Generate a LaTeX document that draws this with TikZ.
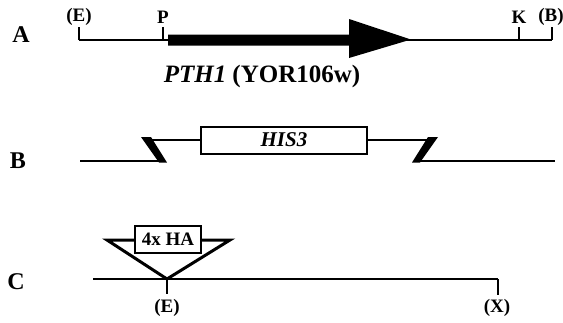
\documentclass[tikz,border=0pt]{standalone}
\usepackage{fontspec}
\setmainfont{Liberation Serif}
\begin{document}
\begin{tikzpicture}[x=1pt,y=-1pt,
  ln/.style={line width=2pt},
  tick/.style={line width=2pt},
  site/.style={font=\bfseries\fontsize{19}{19}\selectfont, inner sep=0pt},
  rowlbl/.style={font=\bfseries\fontsize{24}{24}\selectfont, inner sep=0pt, anchor=base},
  slash/.style={fill=black},
  box/.style={draw, line width=2pt, fill=white, inner sep=0pt}]
\useasboundingbox (0,0) rectangle (563,322);
% ---- Row A ----
\node[rowlbl] (lA) at (21,42) {A};
\coordinate (aE) at (79,40);
\coordinate (aP) at (163,40);
\coordinate (aK) at (519,40);
\coordinate (aB) at (552,40);
\draw[ln] (aE) -- (aB);
\draw[tick] (aE) -- ++(0,-13);
\draw[tick] (aP) -- ++(0,-13);
\draw[tick] (aK) -- ++(0,-13);
\draw[tick] (aB) -- ++(0,-13);
\node[site] (tE) at (79,17) {(E)};
\node[site] (tP) at (163,17) {P};
\node[site] (tK) at (519,17) {K};
\node[site] (tB) at (551,17) {(B)};
\fill (168,34.5) -- (349,34.5) -- (349,19) -- (411,39.5) -- (349,58) -- (349,45.5) -- (168,45.5) -- cycle;
\node[font=\bfseries\fontsize{25}{25}\selectfont, inner sep=0pt] (gene) at (262,76) {\textit{PTH1} (YOR106w)};
% ---- Row B ----
\node[rowlbl] (lB) at (18,168) {B};
\node[box, minimum width=166pt, minimum height=27pt, font=\bfseries\itshape\fontsize{21}{21}\selectfont] (his) at (284,140) {HIS3};
\coordinate (bl0) at (80,161);
\coordinate (bl1) at (164,161);
\coordinate (bl2) at (147,140);
\coordinate (br0) at (555,161);
\coordinate (br1) at (414,161);
\coordinate (br2) at (432,140);
\draw[ln] (bl0) -- (bl1);
\draw[ln] (bl2) -- (his.west);
\draw[ln] (his.east) -- (br2);
\draw[ln] (br1) -- (br0);
\fill[slash] (141,137) -- (151,137) -- (167,162.5) -- (159,162.5) -- cycle;
\fill[slash] (428,137) -- (438,137) -- (420,162.5) -- (412,162.5) -- cycle;
% ---- Row C ----
\node[rowlbl] (lC) at (16,289) {C};
\coordinate (cE) at (167,279);
\coordinate (cX) at (498,279);
\coordinate (cL) at (93,279);
\draw[ln] (cL) -- (cX);
\draw[tick] (cE) -- ++(0,15);
\draw[tick] (cX) -- ++(0,16);
\node[site] (bE) at (167,308) {(E)};
\node[site] (bX) at (497,308) {(X)};
\draw[line width=3pt, line join=miter] (107,240) -- (230,240) -- (cE) -- cycle;
\node[box, minimum width=66pt, minimum height=27pt, font=\bfseries\fontsize{19}{19}\selectfont] (ha) at (168,239.5) {4x HA};
\end{tikzpicture}
\end{document}
